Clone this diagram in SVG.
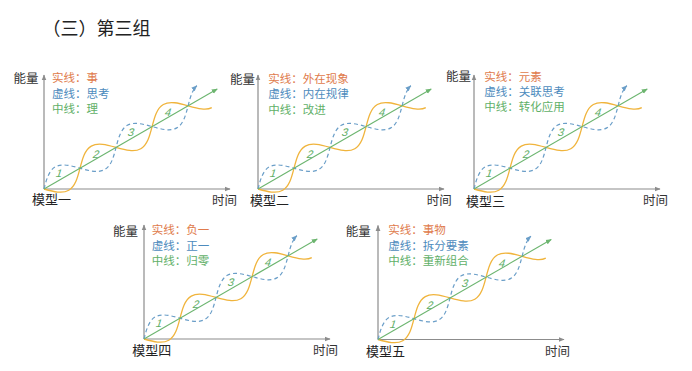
<svg xmlns="http://www.w3.org/2000/svg" width="692" height="371" viewBox="0 0 692 371">
<style>
text{font-family:"Noto Sans CJK SC","Noto Sans",sans-serif}
.t{font-size:18px;fill:#222}
.ax{stroke:#8c8c8c;stroke-width:1.2;fill:none}
.g{stroke:#6cb56f;stroke-width:1.1;fill:none}
.o{stroke:#f0b43c;stroke-width:1.3;fill:none}
.b{stroke:#6a9ec8;stroke-width:1.2;fill:none;stroke-dasharray:4 3}
.lab{font-size:12.5px;fill:#333}
.mod{font-size:13px;fill:#222}
.lr{font-size:11.5px;fill:#e07b4c}
.lb{font-size:11.5px;fill:#4d8bbd}
.lg{font-size:11.5px;fill:#5fb068}
.n{font-family:"Liberation Sans",sans-serif;font-size:11px;fill:#5fae67;text-anchor:middle}
</style>
<defs>
<marker id="ma" viewBox="0 0 10 10" refX="9" refY="5" markerWidth="6" markerHeight="6" markerUnits="userSpaceOnUse" orient="auto"><path d="M0,1 L10,5 L0,9z" fill="#8c8c8c"/></marker>
<marker id="mg" viewBox="0 0 10 10" refX="9" refY="5" markerWidth="6" markerHeight="6" markerUnits="userSpaceOnUse" orient="auto"><path d="M0,1 L10,5 L0,9z" fill="#6cb56f"/></marker>
<marker id="mb" viewBox="0 0 10 10" refX="9" refY="5" markerWidth="6" markerHeight="6" markerUnits="userSpaceOnUse" orient="auto"><path d="M0,1 L10,5 L0,9z" fill="#6a9ec8"/></marker>
<g id="chart">
<path class="ax" d="M0,0 V-114" marker-end="url(#ma)"/>
<path class="ax" d="M0,0 H186" marker-end="url(#ma)"/>
<g transform="rotate(-30)">
<path class="o" d="M0,0 C6.78,6.92 13.27,13.5 20.8,13.5 S34.82,6.92 41.6,0 S54.87,-13.5 62.4,-13.5 S76.42,-6.92 83.2,0 S96.47,13.5 104,13.5 S118.02,6.92 124.8,0 S138.07,-13.5 145.6,-13.5 S159.62,-6.92 166.4,0 S179.5,13.4 186,13.4"/>
<path class="b" d="M0,0 C6.78,-6.92 13.27,-13.5 20.8,-13.5 S34.82,-6.92 41.6,0 S54.87,13.5 62.4,13.5 S76.42,6.92 83.2,0 S96.47,-13.5 104,-13.5 S118.02,-6.92 124.8,0 S138.07,13.5 145.6,13.5 S159.62,6.92 166.4,0 S178,-11.5 184,-13" marker-end="url(#mb)"/>
<path class="g" d="M0,0 H200" marker-end="url(#mg)"/>
</g>
<text class="n" transform="translate(14,-12) skewX(-18)">1</text>
<text class="n" transform="translate(51,-31) skewX(-18)">2</text>
<text class="n" transform="translate(86,-53) skewX(-18)">3</text>
<text class="n" transform="translate(123,-73) skewX(-18)">4</text>
</g>
</defs>
<text class="t" x="42.5" y="34.5">（三）第三组</text>
<g id="model-1">
<use href="#chart" transform="translate(44,189)"/>
<text class="lab" x="38.5" y="82.6" text-anchor="end">能量</text>
<text class="lr" x="52" y="82.4">实线：事</text>
<text class="lb" x="52" y="97.9">虚线：思考</text>
<text class="lg" x="52" y="112.9">中线：理</text>
<text class="mod" x="32" y="204.4">模型一</text>
<text class="lab" x="212" y="204.7">时间</text>
</g>
<g id="model-2">
<use href="#chart" transform="translate(258,189)"/>
<text class="lab" x="255" y="83.6" text-anchor="end">能量</text>
<text class="lr" x="268.3" y="83.4">实线：外在现象</text>
<text class="lb" x="268.3" y="98.4">虚线：内在规律</text>
<text class="lg" x="268.3" y="113.7">中线：改进</text>
<text class="mod" x="250" y="205.4">模型二</text>
<text class="lab" x="426.7" y="204.7">时间</text>
</g>
<g id="model-3">
<use href="#chart" transform="translate(474,189)"/>
<text class="lab" x="471" y="81.3" text-anchor="end">能量</text>
<text class="lr" x="484.3" y="80.9">实线：元素</text>
<text class="lb" x="484.3" y="96.4">虚线：关联思考</text>
<text class="lg" x="484.3" y="111.4">中线：转化应用</text>
<text class="mod" x="466" y="206">模型三</text>
<text class="lab" x="643" y="204.7">时间</text>
</g>
<g id="model-4">
<use href="#chart" transform="translate(144,339)"/>
<text class="lab" x="138" y="235.6" text-anchor="end">能量</text>
<text class="lr" x="151.7" y="234.4">实线：负一</text>
<text class="lb" x="151.7" y="250">虚线：正一</text>
<text class="lg" x="151.7" y="265.2">中线：归零</text>
<text class="mod" x="132.3" y="354.9">模型四</text>
<text class="lab" x="313" y="354.75">时间</text>
</g>
<g id="model-5">
<use href="#chart" transform="translate(378,339.5)"/>
<text class="lab" x="370.7" y="235.6" text-anchor="end">能量</text>
<text class="lr" x="388.3" y="234.4">实线：事物</text>
<text class="lb" x="388.3" y="250.1">虚线：拆分要素</text>
<text class="lg" x="388.3" y="265.1">中线：重新组合</text>
<text class="mod" x="366" y="355.9">模型五</text>
<text class="lab" x="545" y="355.75">时间</text>
</g>
</svg>
